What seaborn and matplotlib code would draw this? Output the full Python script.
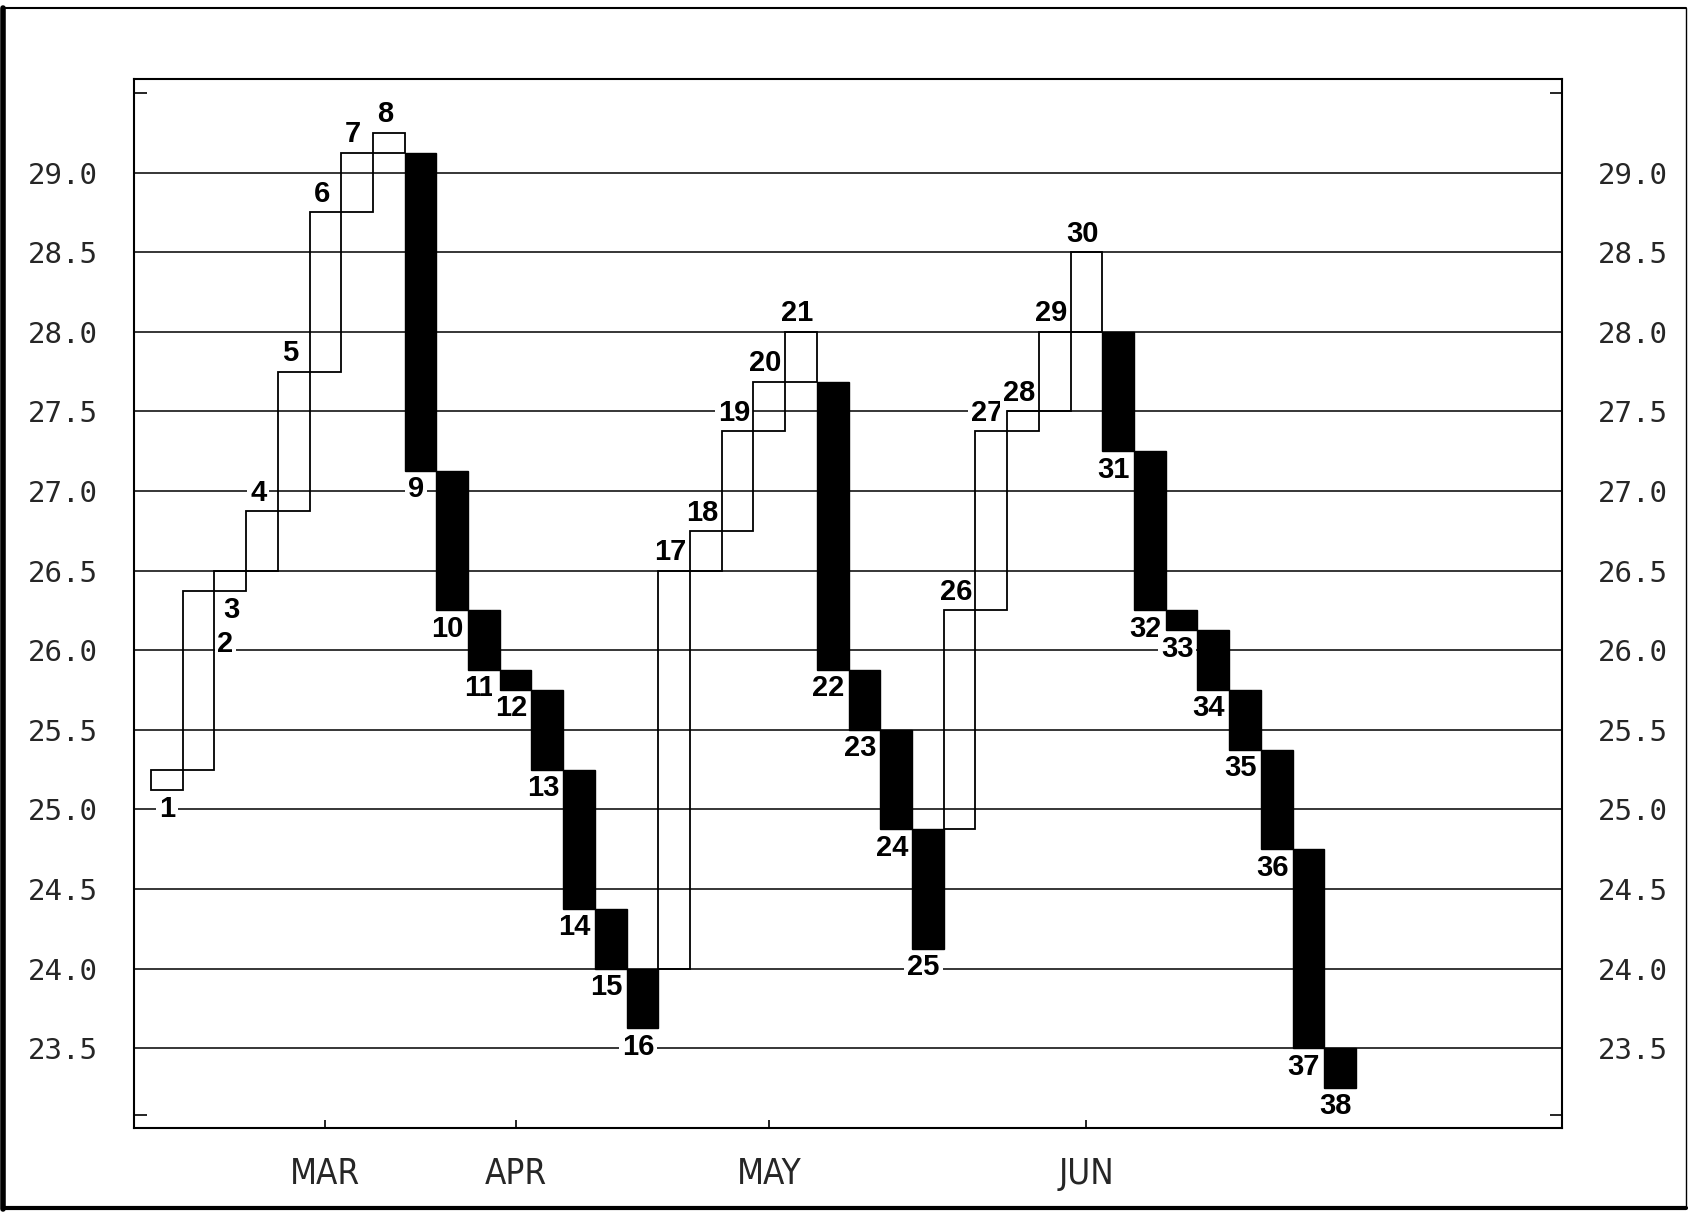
import numpy as np
import pandas as pd
import matplotlib
matplotlib.use("Agg")
import matplotlib.pyplot as plt
from matplotlib.lines import Line2D
import seaborn as sns

# ---------------- data ----------------
box_id = list(range(1, 39))
box_low = [25.125, 25.25, 26.375, 26.5, 26.875, 27.75, 28.75, 29.125,
           27.125, 26.25, 25.875, 25.75, 25.25, 24.375, 24.0, 23.625,
           24.0, 26.5, 26.75, 27.375, 27.6875,
           25.875, 25.5, 24.875, 24.125,
           24.875, 26.25, 27.375, 27.5, 28.0,
           27.25, 26.25, 26.125, 25.75, 25.375, 24.75, 23.5, 23.25]
box_high = [25.25, 26.375, 26.5, 26.875, 27.75, 28.75, 29.125, 29.25,
            29.125, 27.125, 26.25, 25.875, 25.75, 25.25, 24.375, 24.0,
            26.5, 26.75, 27.375, 27.6875, 28.0,
            27.6875, 25.875, 25.5, 24.875,
            26.25, 27.375, 27.5, 28.0, 28.5,
            28.0, 27.25, 26.25, 26.125, 25.75, 25.375, 24.75, 23.5]
box_dir = (["up"] * 8 + ["down"] * 8 + ["up"] * 5 + ["down"] * 4 +
           ["up"] * 5 + ["down"] * 8)

month_labels = ["MAR", "APR", "MAY", "JUN"]
month_pos = [6, 12, 20, 30]
y_ticks = [23.5, 24.0, 24.5, 25.0, 25.5, 26.0, 26.5, 27.0, 27.5, 28.0, 28.5, 29.0]

# label placement overrides (box -> (x, y)) for the first boxes
label_override = {1: (1.0, 25.0), 2: (2.85, 26.04), 3: (3.05, 26.25)}

df = pd.DataFrame({"box": box_id, "low": box_low, "high": box_high, "dir": box_dir})
df["height"] = df["high"] - df["low"]
up = df[df["dir"] == "up"].reset_index(drop=True)
down = df[df["dir"] == "down"].reset_index(drop=True)

# ---------------- figure ----------------
sns.set_style("white")
plt.rcParams["font.family"] = ["Liberation Sans", "DejaVu Sans"]

fig = plt.figure(figsize=(16.88, 12.13), dpi=100)
ax = fig.add_axes([0.0791, 0.0701, 0.9254 - 0.0791, 0.9352 - 0.0701])

sns.barplot(data=up, x="box", y="height", bottom=up["low"].values,
            native_scale=True, width=1.0, fill=False, color="black",
            linewidth=1.3, errorbar=None, ax=ax, zorder=2)
sns.barplot(data=down, x="box", y="height", bottom=down["low"].values,
            native_scale=True, width=1.0, fill=True, color="black",
            edgecolor="black", linewidth=1.0, errorbar=None, ax=ax, zorder=2)

# numbers
for _, r in df.iterrows():
    b = int(r["box"])
    if b in label_override:
        tx, ty = label_override[b]
    elif r["dir"] == "up":
        tx, ty = b - 0.12, r["high"] + 0.115
    else:
        tx, ty = b - 0.14, r["low"] - 0.115
    ax.text(tx, ty, str(b), ha="center", va="center", fontsize=21,
            family=["Liberation Sans", "DejaVu Sans"], fontweight="bold",
            color="black", zorder=1.5,
            bbox=dict(boxstyle="square,pad=0.1", fc="white", ec="none"))

ax.set_xlim(-0.05, 45)
ax.set_ylim(23.0, 29.59)
ax.set_xlabel("")
ax.set_ylabel("")

# y axis
ax.set_yticks(y_ticks)
ax.set_yticklabels([f"{v:.1f}" for v in y_ticks],
                   family=["DejaVu Sans Mono", "DejaVu Sans"], fontsize=21)
ax.set_yticks([23.08, 29.5], minor=True)
ax.tick_params(axis="y", which="major", length=0, left=True, right=True,
               labelleft=True, labelright=True, pad=26)
ax.tick_params(axis="y", which="minor", length=9, width=1.2, direction="in",
               left=True, right=True, color="black")
ax.yaxis.grid(True, which="major", color="black", linewidth=1.1)
ax.xaxis.grid(False)
ax.set_axisbelow(True)

# x axis
ax.set_xticks(month_pos)
ax.set_xticklabels(month_labels)
for t in ax.get_xticklabels():
    t.set_family(["DejaVu Sans", "Liberation Sans"])
    t.set_stretch("condensed")
    t.set_fontsize(25)
    t.set_fontweight("light")
ax.tick_params(axis="x", which="major", length=6, width=1.2, direction="in",
               bottom=True, top=False, pad=21, color="black")

for s in ax.spines.values():
    s.set_visible(True)
    s.set_color("black")
    s.set_linewidth(1.5)

# outer frame
fig.add_artist(Line2D([0.002, 0.002], [0.003, 0.993], transform=fig.transFigure,
                      color="black", linewidth=4))
fig.add_artist(Line2D([0.002, 0.999], [0.993, 0.993], transform=fig.transFigure,
                      color="black", linewidth=1.5))
fig.add_artist(Line2D([0.002, 0.999], [0.004, 0.004], transform=fig.transFigure,
                      color="black", linewidth=3))
fig.add_artist(Line2D([0.999, 0.999], [0.004, 0.993], transform=fig.transFigure,
                      color="black", linewidth=1.0))

fig.savefig("out.png", dpi=100)
